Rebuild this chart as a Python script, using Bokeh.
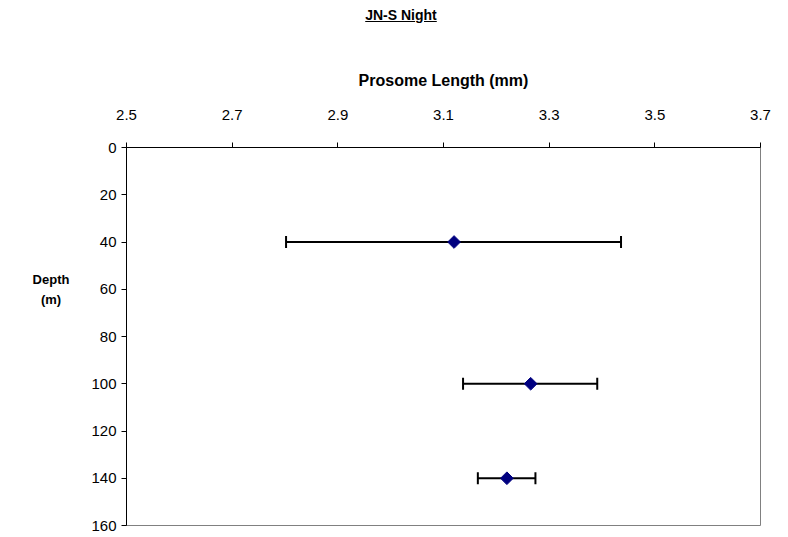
import math
from bokeh.plotting import figure
from bokeh.models import Range1d, Whisker, ColumnDataSource, Div, FixedTicker, TeeHead
from bokeh.layouts import column, row
from bokeh.embed import file_html
from bokeh.resources import INLINE

# data
depth = [40, 100, 140]
mean_length = [3.12, 3.265, 3.22]
lower = [2.802, 3.137, 3.165]
upper = [3.436, 3.391, 3.274]
x_ticks = [2.5, 2.7, 2.9, 3.1, 3.3, 3.5, 3.7]
y_ticks = [0, 20, 40, 60, 80, 100, 120, 140, 160]
title_text = "JN-S Night"
x_label = "Prosome Length (mm)"
y_label_lines = ["Depth", "(m)"]

src = ColumnDataSource(dict(depth=depth, mean=mean_length, lower=lower, upper=upper))

FONT = "Liberation Sans"

title = Div(text=f'<div style="width:788px;text-align:center;font-family:\'Liberation Sans\',Arial;'
                 f'font-weight:bold;font-size:14px;text-decoration:underline;padding-left:14px;'
                 f'line-height:30px;">{title_text}</div>',
            width=788, height=30, margin=0)

ylab = Div(text=f'<div style="margin-top:240px;margin-left:16px;width:70px;text-align:center;'
                f'font-family:\'Liberation Sans\',Arial;font-weight:bold;font-size:13px;'
                f'line-height:20px;color:black;">{"<br>".join(y_label_lines)}</div>',
           width=86, height=507, margin=0)

p = figure(width=702, height=507, output_backend="svg", toolbar_location=None,
           x_range=Range1d(2.5, 3.7), y_range=Range1d(160, 0),
           x_axis_location="above", min_border_left=40, min_border_right=28,
           min_border_top=117, min_border_bottom=12)
p.xgrid.visible = False
p.ygrid.visible = False
p.outline_line_color = "#808080"
p.outline_line_width = 1
p.background_fill_color = "white"
p.border_fill_color = "white"

for ax in (p.xaxis[0], p.yaxis[0]):
    ax.axis_line_color = "black"
    ax.axis_line_width = 1
    ax.major_tick_line_color = "black"
    ax.major_tick_out = 5
    ax.major_tick_in = 0
    ax.minor_tick_line_color = None
    ax.major_label_text_font = FONT
    ax.major_label_text_font_size = "15px"
    ax.major_label_text_color = "black"
    ax.axis_label_text_font = FONT
    ax.axis_label_text_font_style = "bold"
    ax.axis_label_text_color = "black"

p.xaxis[0].ticker = FixedTicker(ticks=x_ticks)
p.xaxis[0].major_label_overrides = {t: f"{t:.1f}" for t in x_ticks}
p.xaxis[0].axis_label = x_label
p.xaxis[0].axis_label_text_font_size = "16px"
p.xaxis[0].major_label_standoff = 23
p.xaxis[0].axis_label_standoff = 18

p.yaxis[0].ticker = FixedTicker(ticks=y_ticks)
p.yaxis[0].major_label_standoff = 5

w = Whisker(source=src, base="depth", lower="lower", upper="upper", dimension="width",
            line_color="black", line_width=2,
            lower_head=TeeHead(size=12, line_color="black", line_width=2),
            upper_head=TeeHead(size=12, line_color="black", line_width=2))
p.add_layout(w)

p.scatter(x="mean", y="depth", source=src, marker="square", size=9, angle=math.pi / 4,
          fill_color="#000080", line_color="#000080")

layout = column(title, row(ylab, p, spacing=0), spacing=0)
open("out.html", "w").write(file_html(layout, INLINE))
